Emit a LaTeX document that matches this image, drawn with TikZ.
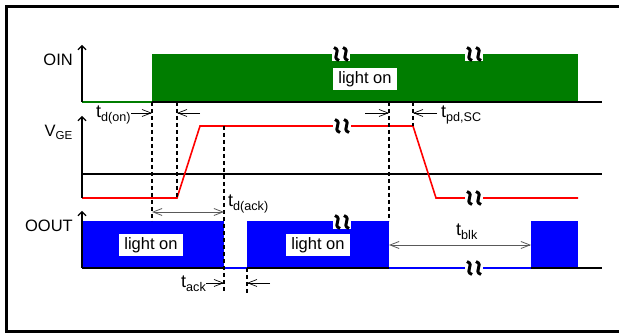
\documentclass[tikz,border=0pt]{standalone}
\usepackage{fontspec}
\setmainfont{Liberation Sans}
\usetikzlibrary{arrows.meta}

\definecolor{oin}{RGB}{0,125,0}
\definecolor{oout}{RGB}{0,0,255}
\definecolor{vge}{RGB}{255,0,0}

\tikzset{
  sig/.style={line width=1.8pt},
  guide/.style={line width=1.2pt, dash pattern=on 4pt off 3pt},
  axisarrow/.style={line width=1.1pt, -{Straight Barb[length=4pt,width=8pt]}},
  dimto/.style={line width=0.7pt, -{Straight Barb[length=9pt,width=7pt]}},
  dimboth/.style={line width=0.8pt, black!65,
    {Straight Barb[length=9pt,width=7pt]}-{Straight Barb[length=9pt,width=7pt]}},
  signame/.style={anchor=base east, inner sep=0pt, font=\fontsize{16.5}{18}\selectfont},
  tlabel/.style={anchor=base west, inner sep=0pt, font=\fontsize{18}{20}\selectfont},
  lighton/.style={fill=white, inner xsep=5pt, inner ysep=3.5pt, font=\fontsize{16.5}{18}\selectfont},
  brk/.pic={
    \fill[white] (-9,-7.5) rectangle (9,7.5);
    \foreach \dx in {-4.5,4.5}
      \draw[line width=3pt] (\dx-2.5,-6.5) .. controls (\dx+6,-3) and (\dx-6,3) .. (\dx+2.5,6.5);
  }
}

\begin{document}
\begin{tikzpicture}[x=1pt,y=-1pt]
  \useasboundingbox (0,0) rectangle (619,336);
  % frame (right side cut off)
  \draw[line width=3pt] (619,6.5) -- (6.5,6.5) -- (6.5,332) -- (619,332);

  % signal names
  \node[signame] at (73,66)  (oinname)  {OIN};
  \node[signame] at (73,137) (vgename)  {V\textsubscript{GE}};
  \node[signame] at (73,232) (ooutname) {OOUT};

  % OIN
  \fill[oin] (152,54) rectangle (578,102);
  \draw[oin, sig] (82,102) -- (152,102);
  \draw[sig] (152,102) -- (602,102);
  \draw[axisarrow] (82,102) -- (82,45);
  \node[lighton] at (365,79) (oinon) {light on};

  % VGE
  \draw[sig] (82,174) -- (602,174);
  \draw[vge, line width=1.6pt] (82,198) -- (177,198) -- (200,126) -- (413,126) -- (436,198) -- (578,198);
  \draw[axisarrow] (82,198) -- (82,116);

  % OOUT
  \fill[oout] (82,221) rectangle (224,268);
  \fill[oout] (247,221) rectangle (389,268);
  \fill[oout] (531,221) rectangle (578,268);
  \draw[sig] (82,268) -- (602,268);
  \draw[oout, sig] (224,268) -- (247,268);
  \draw[oout, sig] (389,268) -- (531,268);
  \draw[axisarrow] (82,268) -- (82,211);
  \node[lighton] at (151,245) (ooutonA) {light on};
  \node[lighton] at (318,245) (ooutonB) {light on};

  % time marks
  \coordinate (in)    at (152,102);
  \coordinate (rise)  at (177,102);
  \coordinate (ack)   at (224,126);
  \coordinate (back)  at (247,268);
  \coordinate (sc)    at (389,102);
  \coordinate (fall)  at (413,102);
  \draw[guide] (in)   -- (152,221);
  \draw[guide] (rise) -- (177,198);
  \draw[guide] (ack)  -- (224,293);
  \draw[guide] (back) -- (247,293);
  \draw[guide] (sc)   -- (389,221);
  \draw[guide] (fall) -- (413,126);

  % delays
  \node[tlabel] at (96,118)  (tdon)  {t\textsubscript{d(on)}};
  \draw[dimto] (131,113) -- (152,113);
  \draw[dimto] (200,113) -- (177,113);

  \node[tlabel] at (441,118) (tpdsc) {t\textsubscript{pd,SC}};
  \draw[dimto] (365,113) -- (389,113);
  \draw[dimto] (437,113) -- (413,113);

  \node[tlabel] at (228,207) (tdack) {t\textsubscript{d(ack)}};
  \draw[dimboth] (152,212) -- (224,212);

  \node[tlabel] at (181,288) (tack)  {t\textsubscript{ack}};
  \draw[dimto] (206,283) -- (224,283);
  \draw[dimto] (270,283) -- (247,283);

  \node[tlabel] at (456,236) (tblk)  {t\textsubscript{blk}};
  \draw[dimboth] (389,245) -- (531,245);

  % breaks
  \pic at (341,54)  {brk};
  \pic at (474,54)  {brk};
  \pic at (342,126) {brk};
  \pic at (474,198) {brk};
  \pic at (342,222) {brk};
  \pic at (474,268) {brk};
\end{tikzpicture}
\end{document}
